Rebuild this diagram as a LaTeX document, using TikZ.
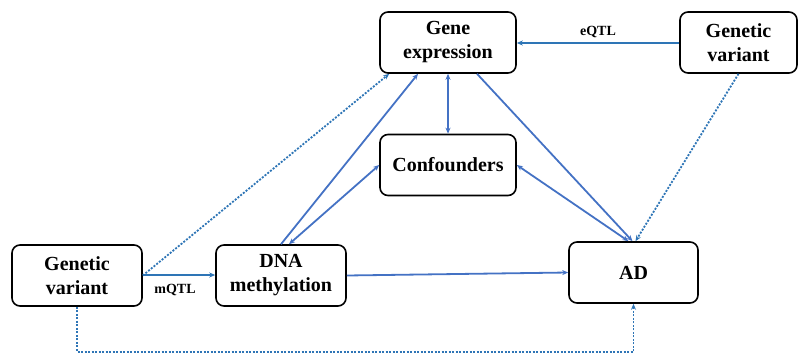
\documentclass[tikz,border=0pt]{standalone}
\usepackage{fontspec}
\setmainfont{Liberation Serif}
\usetikzlibrary{arrows.meta,positioning,calc}
\definecolor{lnblue}{HTML}{4472C4}
\definecolor{dtblue}{HTML}{2E75B6}
\tikzset{
	factor/.style={draw=black,line width=1.6pt,rounded corners=8pt,minimum width=136pt,minimum height=61pt,inner sep=0pt,align=center,font=\fontsize{20}{24}\selectfont\bfseries},
	link/.style={lnblue,line width=1.8pt,-{Stealth[length=6pt,width=5pt]}},
	blink/.style={link,{Stealth[length=6pt,width=5pt]}-{Stealth[length=6pt,width=5pt]}},
	dlink/.style={link,dtblue,dash pattern=on 2pt off 1.5pt},
	qlink/.style={link,dtblue,line width=2pt},
	qtl/.style={text=black,font=\fontsize{14}{16}\selectfont\bfseries,inner sep=1pt}
}
\begin{document}
\begin{tikzpicture}[x=1pt,y=-1pt]
			\useasboundingbox (0,0) rectangle (800,353);
			\node[factor] (gexp) at (448,42.5) {Gene\\expression};
			\node[factor,minimum width=117pt] (gvR) at (738.5,42.5) {Genetic\\variant};
			\node[factor] (conf) at (448,165) {Confounders};
			\node[factor,minimum width=130pt] (gvL) at (77,275.5) {Genetic\\variant};
			\node[factor,minimum width=130pt] (dnam) at (281,275.5) {DNA\\methylation};
			\node[factor,minimum width=129pt] (ad) at (633.5,272.5) {AD};
			%
			\draw[qlink] ([yshift=-0.5pt]gvR.west) -- node[qtl,above=3pt] {eQTL} ([yshift=-0.5pt]gexp.east);
			\draw[qlink] ([yshift=0.5pt]gvL.east) -- node[qtl,below=7pt,xshift=-4pt] {mQTL} ([yshift=0.5pt]dnam.west);
			\draw[dlink] (gvL.east) -- ([xshift=10pt]gexp.south west);
			\draw[link] (dnam.north) -- ([xshift=-30pt]gexp.south);
			\draw[blink] ([xshift=8pt]dnam.north) -- (conf.west);
			\draw[blink] (gexp.south) -- (conf.north);
			\draw[link] ([xshift=29pt]gexp.south) -- ([xshift=-1pt]ad.north);
			\draw[blink] (conf.east) -- ([xshift=-5pt]ad.north);
			\draw[dlink] (gvR.south) -- ([xshift=2pt]ad.north);
			\draw[link] (dnam.east) -- (ad.west);
			\draw[dlink] (gvL.south) -- ++(0,45) -| (ad.south);
		\end{tikzpicture}
\end{document}
